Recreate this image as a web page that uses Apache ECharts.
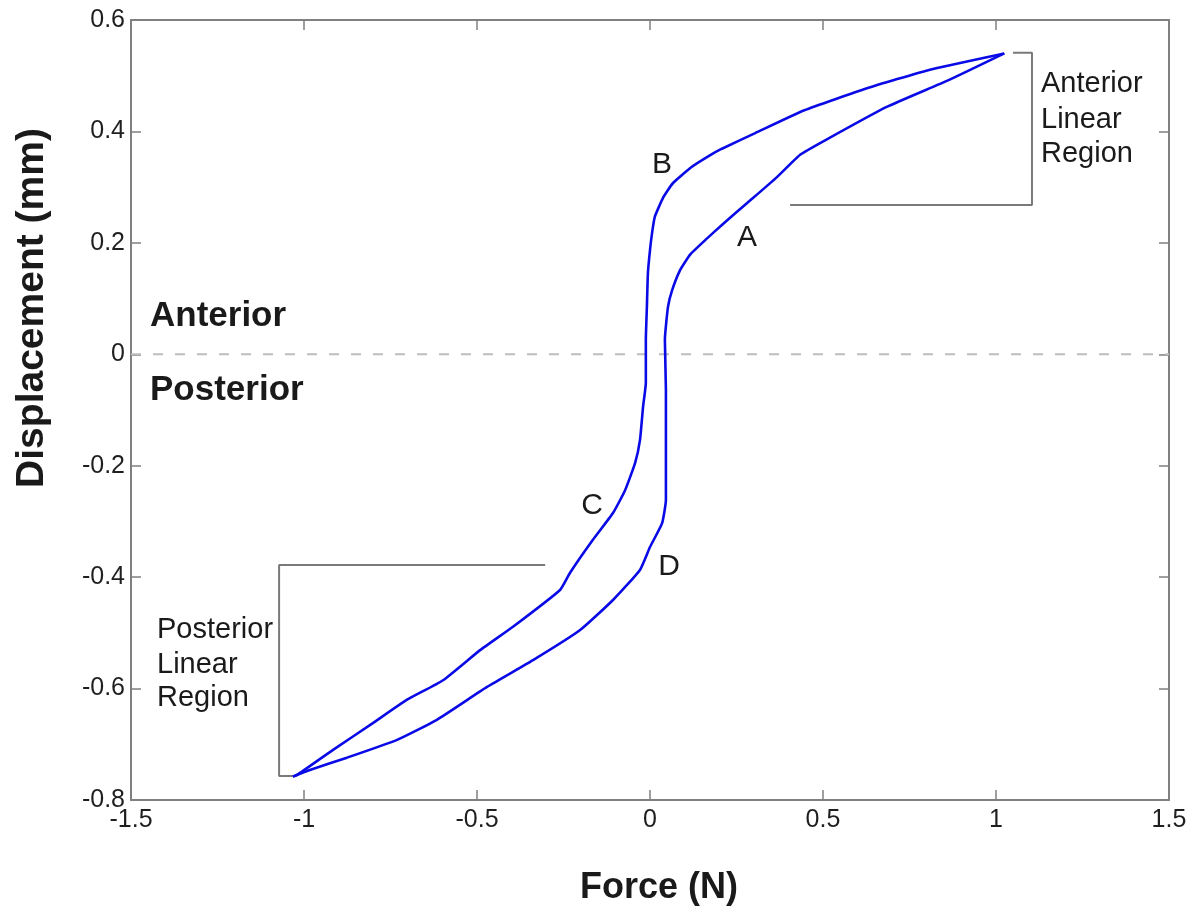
<!DOCTYPE html>
<html>
<head>
<meta charset="utf-8">
<script src="https://cdn.jsdelivr.net/npm/echarts@6/dist/echarts.min.js"></script>
<style>
  html, body { margin: 0; padding: 0; background: #fff; }
  #chart { width: 1200px; height: 917px; }
</style>
</head>
<body>
<div id="chart"></div>
<script>
// axis ticks
const forceTicks = [-1.5, -1, -0.5, 0, 0.5, 1, 1.5]
const dispTicks = [-0.8, -0.6, -0.4, -0.2, 0, 0.2, 0.4, 0.6]

// upper branch of the loop: anterior tip -> B -> C -> posterior tip
const upperForce = [1.024, 0.804, 0.625, 0.446, 0.304, 0.208, 0.173, 0.12, 0.066, 0.038, 0.014, 0.006, 0, -0.006, -0.009, -0.012, -0.012, -0.02, -0.029, -0.043, -0.072, -0.107, -0.165, -0.231, -0.26, -0.396, -0.491, -0.598, -0.702, -0.801, -0.916, -1.02, -1.032]
const upperDisp = [0.54, 0.51, 0.477, 0.438, 0.397, 0.369, 0.357, 0.336, 0.307, 0.281, 0.247, 0.218, 0.187, 0.146, 0.085, 0.026, -0.051, -0.094, -0.154, -0.195, -0.244, -0.285, -0.333, -0.392, -0.423, -0.489, -0.531, -0.585, -0.62, -0.662, -0.71, -0.755, -0.758]

// lower branch: posterior tip -> D -> A -> anterior tip
const lowerForce = [-1.032, -0.983, -0.876, -0.731, -0.616, -0.471, -0.338, -0.202, -0.107, -0.029, 0, 0.035, 0.046, 0.046, 0.046, 0.043, 0.052, 0.064, 0.087, 0.116, 0.165, 0.211, 0.28, 0.367, 0.434, 0.506, 0.684, 0.863, 1.024]
const lowerDisp = [-0.758, -0.746, -0.724, -0.692, -0.656, -0.597, -0.549, -0.495, -0.441, -0.387, -0.346, -0.303, -0.261, -0.154, -0.064, 0.026, 0.085, 0.115, 0.151, 0.179, 0.208, 0.234, 0.271, 0.318, 0.358, 0.384, 0.444, 0.492, 0.54]

// linear region brackets
const anteriorBracketForce = [1.049, 1.104, 1.104, 0.405]
const anteriorBracketDisp = [0.541, 0.541, 0.268, 0.268]
const posteriorBracketForce = [-0.303, -1.072, -1.072, -1.032]
const posteriorBracketDisp = [-0.378, -0.378, -0.757, -0.757]

const zip = (xs, ys) => xs.map((x, i) => [x, ys[i]])

const FONT = "'Liberation Sans', Arial, sans-serif"
const AXIS_COLOR = '#808080'
const LOOP_COLOR = '#0a0ae6'
const BRACKET_COLOR = '#7a7a7a'

const chart = echarts.init(document.getElementById('chart'))

const axisCommon = {
  type: 'value',
  axisLine: { show: true, onZero: false, lineStyle: { color: AXIS_COLOR, width: 2 } },
  axisTick: { show: true, inside: true, length: 10, lineStyle: { color: AXIS_COLOR, width: 1.5 } },
  splitLine: { show: false },
}

const xBase = {
  ...axisCommon,
  min: forceTicks[0],
  max: forceTicks[forceTicks.length - 1],
  interval: forceTicks[1] - forceTicks[0],
}
const yBase = {
  ...axisCommon,
  min: dispTicks[0],
  max: dispTicks[dispTicks.length - 1],
  interval: 0.2,
}

const lineSeries = (data, color, width, extra) => ({
  type: 'line',
  data,
  symbol: 'none',
  silent: true,
  xAxisIndex: 0,
  yAxisIndex: 0,
  lineStyle: { color, width, ...(extra || {}) },
  z: 3,
})

const txt = (text, x, y, size, weight, align) => ({
  type: 'text',
  x, y,
  style: {
    text,
    font: `${weight} ${size}px ${FONT}`,
    fill: '#1a1a1a',
    textAlign: align || 'left',
    textVerticalAlign: 'middle',
  },
})

const option = {
  animation: false,
  backgroundColor: '#fff',
  grid: { left: 131, right: 31, top: 20, bottom: 117, containLabel: false, outerBoundsMode: 'none' },
  xAxis: [
    {
      ...xBase,
      position: 'bottom',
      axisLabel: {
        fontSize: 25, color: '#1f1f1f', fontFamily: FONT, margin: 8,
        showMinLabel: true, showMaxLabel: true,
        formatter: v => String(forceTicks.find(t => Math.abs(t - v) < 1e-9) ?? v),
      },
    },
    { ...xBase, position: 'top', axisLabel: { show: false } },
  ],
  yAxis: [
    {
      ...yBase,
      position: 'left',
      axisLabel: {
        fontSize: 25, color: '#1f1f1f', fontFamily: FONT, margin: 6,
        showMinLabel: true, showMaxLabel: true,
        formatter: v => String(dispTicks.find(t => Math.abs(t - v) < 1e-9) ?? v),
      },
    },
    { ...yBase, position: 'right', axisLabel: { show: false } },
  ],
  series: [
    lineSeries(zip([forceTicks[0], forceTicks[forceTicks.length - 1]], [0, 0]), '#bdbdbd', 2, { type: [10, 12] }),
    lineSeries(zip(anteriorBracketForce, anteriorBracketDisp), BRACKET_COLOR, 2),
    lineSeries(zip(posteriorBracketForce, posteriorBracketDisp), BRACKET_COLOR, 2),
    { ...lineSeries(zip(upperForce, upperDisp), LOOP_COLOR, 2.6), smooth: 0.15, z: 4 },
    { ...lineSeries(zip(lowerForce, lowerDisp), LOOP_COLOR, 2.6), smooth: 0.15, z: 4 },
  ],
  graphic: [
    txt('Anterior', 150, 316, 35, 'bold'),
    txt('Posterior', 150, 390, 35, 'bold'),
    txt('B', 662, 165, 30, 'normal', 'center'),
    txt('A', 747, 238, 30, 'normal', 'center'),
    txt('C', 592, 506, 30, 'normal', 'center'),
    txt('D', 669, 567, 30, 'normal', 'center'),
    txt('Anterior', 1041, 84, 29, 'normal'),
    txt('Linear', 1041, 120, 29, 'normal'),
    txt('Region', 1041, 154, 29, 'normal'),
    txt('Posterior', 157, 630, 29, 'normal'),
    txt('Linear', 157, 665, 29, 'normal'),
    txt('Region', 157, 698, 29, 'normal'),
    txt('Force (N)', 659, 888, 36, 'bold', 'center'),
    {
      type: 'text',
      x: 32, y: 308,
      rotation: Math.PI / 2,
      style: {
        text: 'Displacement (mm)',
        font: `bold 39px ${FONT}`,
        fill: '#1a1a1a',
        textAlign: 'center',
        textVerticalAlign: 'middle',
      },
    },
  ],
}

chart.setOption(option)
</script>
</body>
</html>
